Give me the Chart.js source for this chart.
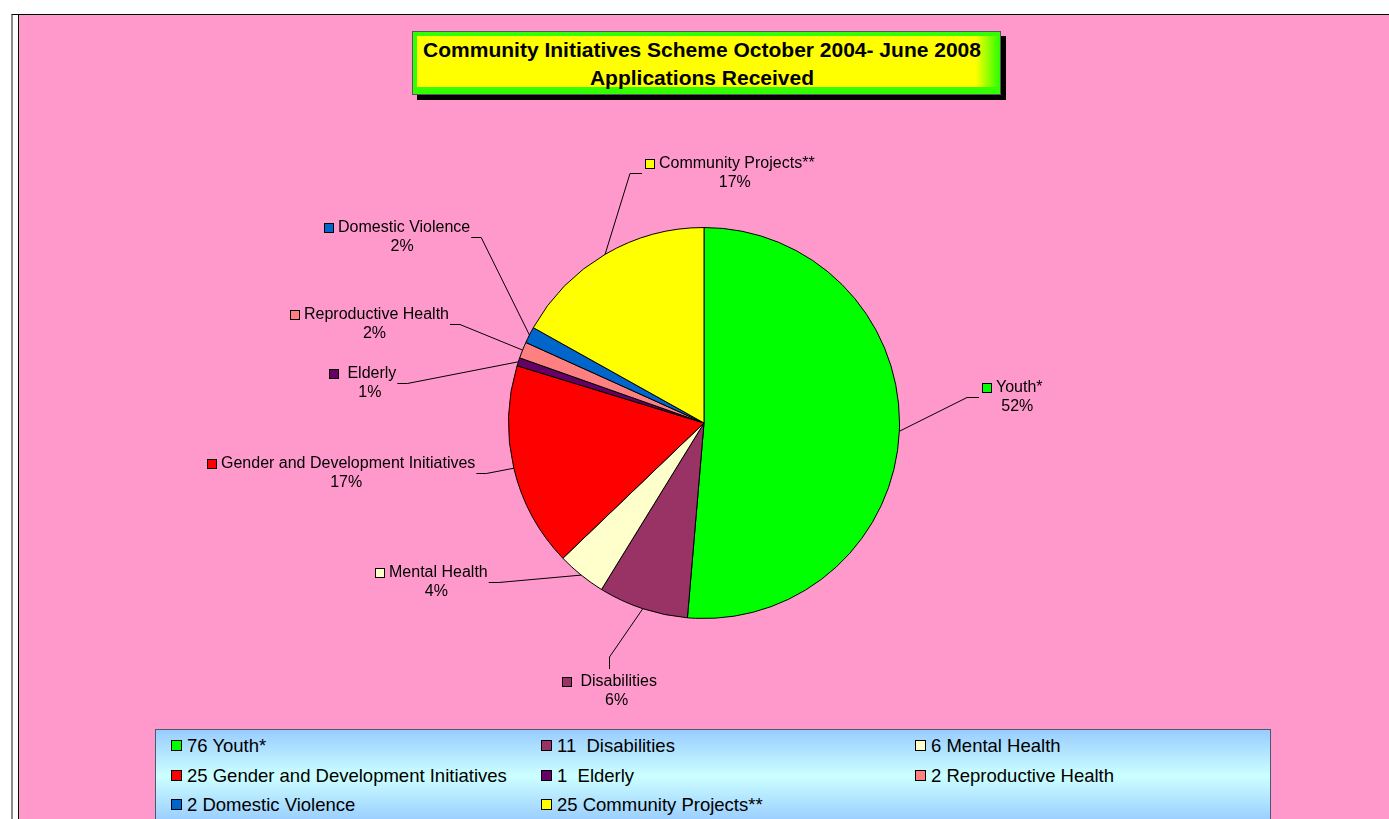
<!DOCTYPE html>
<html>
<head>
<meta charset="utf-8">
<title>Community Initiatives Scheme</title>
<script src="https://cdn.jsdelivr.net/npm/chart.js@4.4.1/dist/chart.umd.min.js"></script>
<style>
	body { margin: 0; width: 1389px; height: 819px; overflow: hidden; background: #fff; position: relative; font-family: "Liberation Sans", Arial, sans-serif; }
	#outer { position: absolute; left: 11px; top: 14px; right: 0; bottom: 0; border-top: 1px solid #000; border-left: 2px solid #8a8a8a; background: #fff; }
	#plot { position: absolute; left: 18px; top: 15px; right: 0; bottom: 0; background: #ff99cc; border-left: 1px solid #000; }
	#pie { position: absolute; left: 0; top: 0; z-index: 1; }
	#title_shadow { position: absolute; left: 417px; top: 36px; width: 589px; height: 64px; background: #000; z-index: 2; }
	#title_box { position: absolute; left: 412px; top: 31px; width: 587px; height: 62px; border: 1px solid #556; background: #33ff00; z-index: 3; }
	#title_fill { position: absolute; left: 4px; top: 4px; width: 582px; height: 51px; background: linear-gradient(to right, #ffff00 0%, #ffff00 96%, #33ff00 100%); }
	#title_text { position: absolute; left: 0; top: 4px; width: 578px; text-align: center; font-weight: bold; font-size: 21px; line-height: 28px; color: #000; }
	#legend { position: absolute; left: 155px; top: 729px; width: 1114px; height: 92px; border: 1px solid #4a5a6a; background: linear-gradient(to bottom, #99ccff 0%, #ccffff 50%, #99ccff 100%); z-index: 2; }
	.item { position: absolute; height: 22px; font-size: 18.5px; line-height: 22px; color: #000; white-space: pre; }
	.swatch { position: absolute; left: 0; top: 5px; width: 9px; height: 9px; border: 1px solid #000; }
	.item span { position: absolute; left: 16px; top: 0; }
</style>
</head>
<body>
<div id="outer"></div>
<div id="plot"></div>
<canvas id="pie" width="1389" height="819"></canvas>
<div id="title_shadow"></div>
<div id="title_box"><div id="title_fill"></div><div id="title_text">Community Initiatives Scheme October 2004- June 2008<br>Applications Received</div></div>
<div id="legend"></div>
<script>
var categories = ['Youth*', ' Disabilities', 'Mental Health', 'Gender and Development Initiatives', ' Elderly', 'Reproductive Health', 'Domestic Violence', 'Community Projects**'];
var applications = [76, 11, 6, 25, 1, 2, 2, 25];
var percent_labels = ['52%', '6%', '4%', '17%', '1%', '2%', '2%', '17%'];

var slice_colors = ['#00ff00', '#993366', '#ffffcc', '#ff0000', '#660066', '#ff8080', '#0066cc', '#ffff00'];

// where each data label sits, from the pie centre (px at radius 196)
var label_offsets = [[279, -35], [-142, 260], [-330, 150], [-498, 41], [-376, -49], [-415, -108], [-381, -195], [-59, -260]];

// legend grid (page coords)
var legend_cols = [171, 541, 915];
var legend_rows = [746, 776, 805];

var label_font = '16px "Liberation Sans", Arial, sans-serif';

var data_labels = {
	id: 'data_labels',
	afterDatasetsDraw: function (chart) {
		var ctx = chart.ctx;
		var meta = chart.getDatasetMeta(0);
		ctx.save();
		ctx.font = label_font;
		ctx.textBaseline = 'middle';
		ctx.lineWidth = 1;
		ctx.strokeStyle = '#000';

		meta.data.forEach(function (arc, i) {
			var p = arc.getProps(['x', 'y', 'startAngle', 'endAngle', 'outerRadius'], true);
			var scale = p.outerRadius / 196;
			var mid = (p.startAngle + p.endAngle) / 2;
			var px = p.x + Math.cos(mid) * p.outerRadius;
			var py = p.y + Math.sin(mid) * p.outerRadius;

			var sx = Math.round(p.x + label_offsets[i][0] * scale);
			var ly = Math.round(p.y + label_offsets[i][1] * scale);

			var name = categories[i];
			var tx = sx + 14;
			var tw = ctx.measureText(name).width;
			var lead = ctx.measureText(name).width - ctx.measureText(name.trim()).width;
			var text_right = tx + tw;

			// leader line
			ctx.beginPath();
			if (py < ly - 30) {
				var bx = Math.round((sx + text_right) / 2) + 0.5;
				ctx.moveTo(bx, ly - 13);
				ctx.lineTo(bx, ly - 25);
				ctx.lineTo(px, py);
			} else if (px < sx) {
				ctx.moveTo(sx - 3, ly + 9.5);
				ctx.lineTo(sx - 15, ly + 9.5);
				ctx.lineTo(px, py);
			} else {
				ctx.moveTo(text_right + 1, ly + 9.5);
				ctx.lineTo(text_right + 11, ly + 9.5);
				ctx.lineTo(px, py);
			}
			ctx.stroke();

			// swatch
			ctx.fillStyle = slice_colors[i];
			ctx.fillRect(sx, ly - 5, 10, 10);
			ctx.strokeRect(sx + 0.5, ly - 4.5, 9, 9);

			ctx.fillStyle = '#000';
			ctx.textAlign = 'left';
			ctx.fillText(name, tx, ly);
			ctx.textAlign = 'center';
			ctx.fillText(percent_labels[i], tx + lead + (tw - lead) / 2 - 2, ly + 19);
		});
		ctx.restore();
	}
};

function draw_legend() {
	var box = document.getElementById('legend');
	var left0 = 155, top0 = 729;
	for (var i = 0; i < categories.length; i++) {
		var col = i % 3, row = Math.floor(i / 3);
		var item = document.createElement('div');
		item.className = 'item';
		item.style.left = (legend_cols[col] - left0 - 1) + 'px';
		item.style.top = (legend_rows[row] - top0 - 1 - 11) + 'px';

		var sw = document.createElement('div');
		sw.className = 'swatch';
		sw.style.background = slice_colors[i];
		item.appendChild(sw);

		var txt = document.createElement('span');
		txt.textContent = applications[i] + ' ' + categories[i];
		item.appendChild(txt);
		box.appendChild(item);
	}
}

function draw_pie() {
	var ctx = document.getElementById('pie').getContext('2d');
	var chart = new Chart(ctx, {
		type: 'pie',
		data: {
			labels: categories,
			datasets: [{
				data: applications,
				backgroundColor: slice_colors,
				borderColor: '#000',
				borderWidth: 1
			}]
		},
		options: {
			responsive: false,
			animation: false,
			layout: {
				padding: { left: 508, right: 489, top: 227, bottom: 200 }
			},
			plugins: {
				legend: { display: false },
				title: { display: false },
				tooltip: { enabled: false }
			}
		},
		plugins: [data_labels]
	});
}

window.onload = function () {
	draw_legend();
	draw_pie();
};
</script>
</body>
</html>
